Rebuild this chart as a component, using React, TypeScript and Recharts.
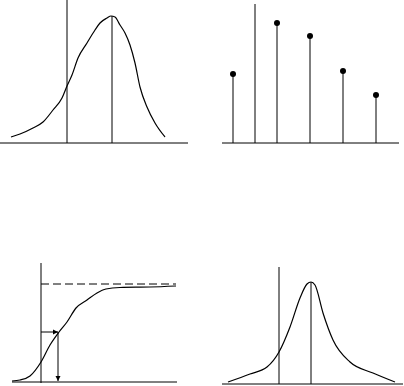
import React from 'react';
import { LineChart, ComposedChart, Line, Scatter, XAxis, YAxis, ReferenceLine } from 'recharts';

// Top-left: bell-shaped curve (x = distance from panel left, y = height above baseline)
const bellX = [11, 20, 33, 43, 53, 62, 67, 72, 78, 87, 95, 100, 107, 111, 115, 120, 125, 130, 135, 140, 147, 155, 165];
const bellY = [6, 9, 15, 21, 33, 45, 57, 68, 85, 100, 113, 120, 125, 127, 126, 118, 110, 98, 80, 56, 36, 20, 6];
const bellMarkers = [67, 112];
const bellMarkerTops = [143, 127];

// Top-right: stem plot
const stemX = [33, 77, 110, 143, 176];
const stemY = [69, 120, 107, 72, 48];
const stemDivider = 55;
const stemDividerTop = 139;

// Bottom-left: cumulative curve with asymptote
const cumX = [12, 20, 30, 41, 50, 59, 67, 76, 87, 97, 106, 120, 150, 176];
const cumY = [1, 2, 6, 20, 37, 50, 60, 74, 82, 89, 93, 94.5, 95, 96];
const cumAsymptote = 98;
const cumAxisX = 41;
const cumAxisTop = 119;
const cumPick = { x: 58, y: 50 };

// Bottom-right: sharp peaked curve
const peakX = [28, 50, 67, 79, 90, 100, 107, 111, 115, 123, 133, 150, 173, 195];
const peakY = [2, 10, 17, 32, 57, 86, 100, 102, 99, 71, 44, 22, 11, 2];
const peakMarkers = [79, 111];
const peakMarkerTops = [117, 102];

const toRows = (xs: number[], ys: number[]) => xs.map((x, i) => ({ x, y: ys[i] }));

const ArrowShape = (props: any) => {
  const { x1, y1, x2, y2 } = props;
  const ang = Math.atan2(y2 - y1, x2 - x1);
  const len = 5;
  const w = 2.5;
  const bx = x2 - len * Math.cos(ang);
  const by = y2 - len * Math.sin(ang);
  const px = -Math.sin(ang) * w;
  const py = Math.cos(ang) * w;
  return (
    <g>
      <line x1={x1} y1={y1} x2={x2} y2={y2} stroke="#000" strokeWidth={1} />
      <polygon points={`${x2},${y2} ${bx + px},${by + py} ${bx - px},${by - py}`} fill="#000" />
    </g>
  );
};

const ink = '#000';

const panelStyle = (left: number, top: number): React.CSSProperties => ({
  position: 'absolute',
  left,
  top,
});

export default function App() {
  const margin = { top: 0, right: 0, bottom: 0, left: 0 };
  return (
    <div style={{ position: 'absolute', left: 0, top: 0, width: 404, height: 386, background: '#fff' }}>
      {/* top-left */}
      <div style={panelStyle(0, 0)}>
        <LineChart width={200} height={150} margin={margin} data={toRows(bellX, bellY)}>
          <XAxis type="number" dataKey="x" domain={[0, 200]} hide />
          <YAxis type="number" domain={[-7, 143]} hide />
          <ReferenceLine segment={[{ x: 0, y: 0 }, { x: 188, y: 0 }]} stroke={ink} strokeWidth={1} />
          {bellMarkers.map((m, i) => (
            <ReferenceLine key={m} segment={[{ x: m, y: 0 }, { x: m, y: bellMarkerTops[i] }]} stroke={ink} strokeWidth={1} />
          ))}
          <Line type="monotone" dataKey="y" stroke={ink} strokeWidth={1.2} dot={false} activeDot={false} isAnimationActive={false} />
        </LineChart>
      </div>

      {/* top-right */}
      <div style={panelStyle(200, 0)}>
        <ComposedChart width={204} height={150} margin={margin} data={toRows(stemX, stemY)}>
          <XAxis type="number" dataKey="x" domain={[0, 204]} hide />
          <YAxis type="number" domain={[-7, 143]} hide />
          <ReferenceLine segment={[{ x: 22, y: 0 }, { x: 199, y: 0 }]} stroke={ink} strokeWidth={1} />
          <ReferenceLine segment={[{ x: stemDivider, y: 0 }, { x: stemDivider, y: stemDividerTop }]} stroke={ink} strokeWidth={1} />
          {stemX.map((x, i) => (
            <ReferenceLine key={x} segment={[{ x, y: 0 }, { x, y: stemY[i] }]} stroke={ink} strokeWidth={1} />
          ))}
          <Scatter dataKey="y" fill={ink} isAnimationActive={false}
            shape={(p: any) => <circle cx={p.cx} cy={p.cy} r={3} fill={ink} />} />
        </ComposedChart>
      </div>

      {/* bottom-left */}
      <div style={panelStyle(0, 255)}>
        <LineChart width={200} height={131} margin={margin} data={toRows(cumX, cumY)}>
          <XAxis type="number" dataKey="x" domain={[0, 200]} hide />
          <YAxis type="number" domain={[-4, 127]} hide />
          <ReferenceLine segment={[{ x: 12, y: 0 }, { x: 177, y: 0 }]} stroke={ink} strokeWidth={1} />
          <ReferenceLine segment={[{ x: cumAxisX, y: -1 }, { x: cumAxisX, y: cumAxisTop }]} stroke={ink} strokeWidth={1} />
          <ReferenceLine segment={[{ x: cumAxisX, y: cumAsymptote }, { x: 176, y: cumAsymptote }]} stroke={ink} strokeWidth={1} strokeDasharray="8 4" />
          <ReferenceLine segment={[{ x: cumAxisX, y: cumPick.y }, { x: cumPick.x, y: cumPick.y }]} shape={ArrowShape} />
          <ReferenceLine segment={[{ x: cumPick.x, y: cumPick.y }, { x: cumPick.x, y: 1 }]} shape={ArrowShape} />
          <Line type="monotone" dataKey="y" stroke={ink} strokeWidth={1.2} dot={false} activeDot={false} isAnimationActive={false} />
        </LineChart>
      </div>

      {/* bottom-right */}
      <div style={panelStyle(200, 255)}>
        <LineChart width={204} height={131} margin={margin} data={toRows(peakX, peakY)}>
          <XAxis type="number" dataKey="x" domain={[0, 204]} hide />
          <YAxis type="number" domain={[-2, 129]} hide />
          <ReferenceLine segment={[{ x: 22, y: 0 }, { x: 203, y: 0 }]} stroke={ink} strokeWidth={1} />
          {peakMarkers.map((m, i) => (
            <ReferenceLine key={m} segment={[{ x: m, y: 0 }, { x: m, y: peakMarkerTops[i] }]} stroke={ink} strokeWidth={1} />
          ))}
          <Line type="monotone" dataKey="y" stroke={ink} strokeWidth={1.2} dot={false} activeDot={false} isAnimationActive={false} />
        </LineChart>
      </div>
    </div>
  );
}
